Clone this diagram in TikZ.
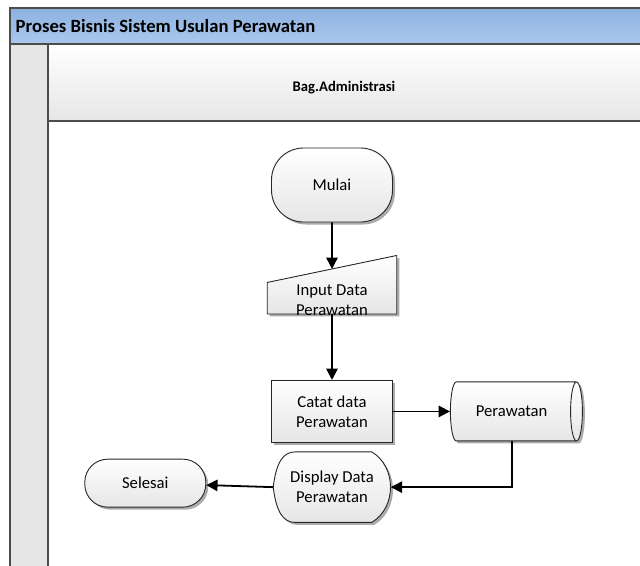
\documentclass[tikz,border=0pt]{standalone}
\usepackage{fontspec}
\setmainfont{Carlito}
\usetikzlibrary{arrows.meta,positioning,calc,shapes.geometric,shadows}
\newlength{\px}\setlength{\px}{0.75pt}
\definecolor{bandtop}{HTML}{8DB1E0}
\definecolor{bandbot}{HTML}{AAC8EE}
\definecolor{lanegray}{HTML}{E6E6E6}

\begin{document}
\begin{tikzpicture}[
  x=\px,y=-\px,font=\fontsize{12.5}{15}\selectfont,
  frm/.style={draw=black!70,line width=1.6\px},
  shp/.style={draw=black!85,line width=0.9\px,top color=white,bottom color=black!10,
    drop shadow={shadow xshift=2.5\px,shadow yshift=-2.5\px,fill=black!55,opacity=.6}},
  txt/.style={align=center,inner sep=0pt},
  term/.style={shp,rectangle,minimum width=121\px,align=center},
  proc/.style={shp,rectangle,minimum width=121\px,minimum height=62\px,align=center},
  ar/.style={-{Triangle[length=8.5pt,width=8.5pt]},line width=1.8\px}
]
\useasboundingbox (0,0) rectangle (640,565);
% pool and lane
\begin{scope}
  \clip (0,0) rectangle (640,565);
  \fill[top color=bandtop,bottom color=bandbot] (10,8) rectangle (650,44);
  \fill[top color=white,bottom color=lanegray] (48,44) rectangle (650,121);
  \fill[lanegray] (10,44) rectangle (48,575);
  \draw[frm] (650,8) -- (10,8) -- (10,575);
  \draw[frm] (10,44) -- (650,44);
  \draw[frm] (48,44) -- (48,575);
  \draw[frm] (48,121) -- (650,121);
\end{scope}
\node[anchor=west,font=\fontsize{14}{16}\selectfont\bfseries] (pool) at (11,26) {Proses Bisnis Sistem Usulan Perawatan};
\node[font=\fontsize{11}{13}\selectfont\bfseries] (lane) at (344,88) {Bag.Administrasi};

% flow
\node[term,minimum height=74\px,rounded corners=32\px] (mulai) at (332,185) {Mulai};
\node[txt,minimum width=129\px,minimum height=58\px,below=33\px of mulai] (inp) {};
\draw[shp] (inp.south west) -- (inp.south east) -- (inp.north east) -- ($(inp.north west)+(0,27)$) -- cycle;
\coordinate (inptop) at ($(inp.north east)!.5!($(inp.north west)+(0,27)$)$);
\node[txt] (inptxt) at ($(inp.center)+(0,15)$) {Input Data\\Perawatan};
\node[proc,below=66\px of inp] (catat) {Catat data\\Perawatan};
\node[shp,cylinder,shape aspect=.6,minimum width=59\px,minimum height=132\px,right=57\px of catat] (per) {Perawatan};
\node[txt,minimum width=117\px,minimum height=70\px,below=9\px of catat] (disp) {};
\draw[shp] (disp.west) .. controls ($(disp.west)+(3,-25)$) and ($(disp.north west)+(10,0)$) .. ($(disp.north west)+(22,0)$)
  -- ($(disp.north east)+(-19,0)$) .. controls ($(disp.north east)+(6,15)$) and ($(disp.south east)+(6,-15)$) .. ($(disp.south east)+(-19,0)$)
  -- ($(disp.south west)+(22,0)$) .. controls ($(disp.south west)+(10,0)$) and ($(disp.west)+(3,25)$) .. (disp.west) -- cycle;
\node[txt] (disptxt) at (disp) {Display Data\\Perawatan};
\node[term,minimum height=48\px,rounded corners=23\px,left=67\px of disp,yshift=4\px] (sel) {Selesai};

\draw[ar] (mulai) -- (inptop);
\draw[ar] (inp.south) -- (catat);
\draw[ar] (catat) -- (per);
\draw[ar] (per.south) |- (disp.east);
\draw[ar] (disp.west) -- (sel);
\end{tikzpicture}
\end{document}
